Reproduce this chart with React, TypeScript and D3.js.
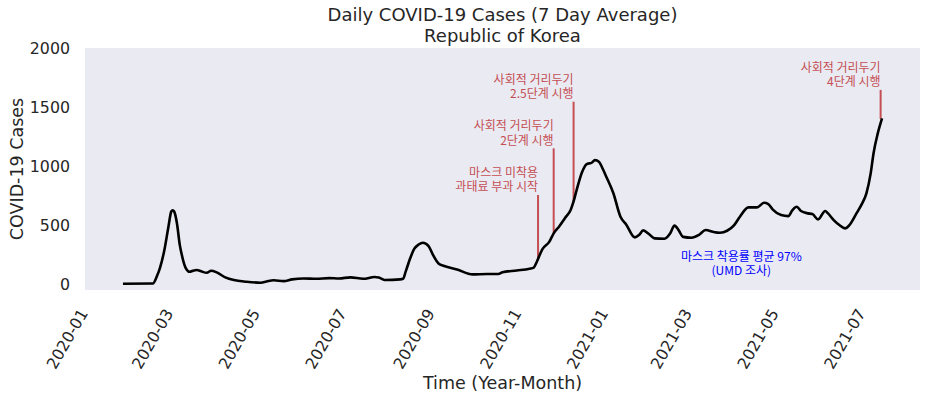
import React from "react";
import * as d3 from "d3";

const width = 927;
const height = 401;
const plot = { left: 85, right: 920, top: 48, bottom: 290 };

// 7-day average of daily cases
const dates = [
  "2020-01-26", "2020-02-16", "2020-02-19", "2020-02-21", "2020-02-24", "2020-02-27",
  "2020-02-29", "2020-03-01", "2020-03-02", "2020-03-04", "2020-03-06", "2020-03-07",
  "2020-03-10", "2020-03-13", "2020-03-15", "2020-03-18", "2020-03-21", "2020-03-25",
  "2020-03-28", "2020-04-01", "2020-04-07", "2020-04-13", "2020-04-22", "2020-05-02",
  "2020-05-06", "2020-05-11", "2020-05-18", "2020-05-24", "2020-06-01", "2020-06-10",
  "2020-06-19", "2020-06-26", "2020-07-04", "2020-07-13", "2020-07-21", "2020-07-24",
  "2020-07-28", "2020-08-08", "2020-08-10", "2020-08-12", "2020-08-15", "2020-08-18",
  "2020-08-21", "2020-08-24", "2020-08-28", "2020-08-31", "2020-09-04", "2020-09-08",
  "2020-09-17", "2020-09-28", "2020-10-08", "2020-10-16", "2020-10-19", "2020-10-29",
  "2020-11-07", "2020-11-10", "2020-11-12", "2020-11-16", "2020-11-21", "2020-11-24",
  "2020-11-28", "2020-12-02", "2020-12-06", "2020-12-08", "2020-12-10", "2020-12-14",
  "2020-12-17", "2020-12-21", "2020-12-23", "2020-12-26", "2020-12-28", "2020-12-31",
  "2021-01-05", "2021-01-10", "2021-01-14", "2021-01-20", "2021-01-23", "2021-01-26",
  "2021-01-30", "2021-02-03", "2021-02-10", "2021-02-14", "2021-02-17", "2021-02-20",
  "2021-02-23", "2021-03-01", "2021-03-06", "2021-03-11", "2021-03-16", "2021-03-21",
  "2021-03-26", "2021-03-31", "2021-04-04", "2021-04-10", "2021-04-16", "2021-04-21",
  "2021-04-24", "2021-04-27", "2021-05-03", "2021-05-08", "2021-05-11", "2021-05-14",
  "2021-05-17", "2021-05-22", "2021-05-25", "2021-05-29", "2021-06-03", "2021-06-05",
  "2021-06-09", "2021-06-13", "2021-06-17", "2021-06-20", "2021-06-25", "2021-06-29",
  "2021-07-02", "2021-07-05", "2021-07-07", "2021-07-10", "2021-07-13",
];
const cases = [
  3, 5, 70, 136, 280, 486,
  615, 625, 615, 514, 330, 270,
  140, 104, 112, 119, 108, 96,
  113, 99, 57, 34, 20, 12,
  22, 32, 25, 40, 48, 45,
  51, 48, 57, 45, 60, 55,
  35, 40, 45, 110, 217, 300,
  335, 350, 322, 250, 175, 153,
  124, 82, 85, 85, 100, 115,
  130, 140, 185, 295, 360, 430,
  490, 560, 630, 700, 790, 950,
  1015, 1030, 1050, 1035, 990, 910,
  770, 570, 505, 396, 415, 455,
  424, 387, 384, 430, 495, 455,
  400, 393, 415, 458, 443, 435,
  452, 500, 571, 650, 650, 689,
  678, 633, 585, 576, 627, 655,
  619, 599, 593, 548, 619, 599,
  542, 500, 472, 500, 599, 684,
  769, 938, 1107, 1277, 1404,
];

// red policy markers
const eventDates = ["2020-11-13", "2020-11-24", "2020-12-08", "2021-07-12"];
const eventBase = [217, 430, 700, 1400];
const eventTop = [755, 1150, 1545, 1645];
const eventLabels = [
  ["마스크 미착용", "과태료 부과 시작"],
  ["사회적 거리두기", "2단계 시행"],
  ["사회적 거리두기", "2.5단계 시행"],
  ["사회적 거리두기", "4단계 시행"],
];

const maskNote = ["마스크 착용률 평균 97%", "(UMD 조사)"];
const maskNoteDate = "2021-04-05";
const maskNoteValue = [195, 80];

const yTicks = [0, 500, 1000, 1500, 2000];
const xTicks = [
  "2020-01", "2020-03", "2020-05", "2020-07", "2020-09", "2020-11",
  "2021-01", "2021-03", "2021-05", "2021-07",
];

const parse = d3.utcParse("%Y-%m-%d");
const parseMonth = d3.utcParse("%Y-%m");
const sans = "'DejaVu Sans', sans-serif";
const kr = "'Noto Sans CJK KR', sans-serif";
const ink = "#262626";
const red = "#c44e52";

export default function App() {
  const series = dates.map((d, i) => ({ date: parse(d) as Date, value: cases[i] }));
  const [t0, t1] = d3.extent(series, (d) => d.date) as [Date, Date];
  const pad = (t1.getTime() - t0.getTime()) * 0.05;

  const x = d3
    .scaleUtc()
    .domain([new Date(t0.getTime() - pad), new Date(t1.getTime() + pad)])
    .range([plot.left, plot.right]);
  const y = d3.scaleLinear().domain([-50, 2000]).range([plot.bottom, plot.top]);

  const line = d3
    .line<{ date: Date; value: number }>()
    .x((d) => x(d.date))
    .y((d) => y(d.value))
    .curve(d3.curveMonotoneX);

  const midX = (plot.left + plot.right) / 2;

  return (
    <svg
      width={width}
      height={height}
      style={{ position: "absolute", left: 0, top: 0, background: "#fff" }}
    >
      <text x={midX} y={21} textAnchor="middle" fontFamily={sans} fontSize={18} fill={ink}>
        Daily COVID-19 Cases (7 Day Average)
      </text>
      <text x={midX} y={42} textAnchor="middle" fontFamily={sans} fontSize={18} fill={ink}>
        Republic of Korea
      </text>

      <rect
        x={plot.left}
        y={plot.top}
        width={plot.right - plot.left}
        height={plot.bottom - plot.top}
        fill="#eaeaf2"
      />

      {yTicks.map((t) => (
        <text
          key={t}
          x={plot.left - 15}
          y={y(t)}
          dy="0.36em"
          textAnchor="end"
          fontFamily={sans}
          fontSize={15.8}
          fill={ink}
        >
          {t}
        </text>
      ))}

      {xTicks.map((t) => {
        const px = x(parseMonth(t) as Date);
        return (
          <text
            key={t}
            transform={`translate(${px + 1},${313}) rotate(-60)`}
            textAnchor="end"
            fontFamily={sans}
            fontSize={15.8}
            fill={ink}
          >
            {t}
          </text>
        );
      })}

      <text
        transform={`translate(22.5,${(plot.top + plot.bottom) / 2}) rotate(-90)`}
        textAnchor="middle"
        fontFamily={sans}
        fontSize={17.5}
        fill={ink}
      >
        COVID-19 Cases
      </text>
      <text x={midX} y={388.5} textAnchor="middle" fontFamily={sans} fontSize={17.5} fill={ink}>
        Time (Year-Month)
      </text>

      {eventDates.map((d, i) => {
        const px = x(parse(d) as Date);
        const top = y(eventTop[i]);
        return (
          <g key={d}>
            <line x1={px} x2={px} y1={y(eventBase[i])} y2={top} stroke={red} strokeWidth={2} />
            {eventLabels[i].map((s, j) => (
              <text
                key={j}
                x={px}
                y={top - 3.5 - (1 - j) * 14.5}
                textAnchor="end"
                fontFamily={kr}
                fontSize={12}
                fill={red}
              >
                {s}
              </text>
            ))}
          </g>
        );
      })}

      <path d={line(series) ?? ""} fill="none" stroke="#000" strokeWidth={2.6} strokeLinejoin="round" />

      {maskNote.map((s, i) => (
        <text
          key={i}
          x={x(parse(maskNoteDate) as Date)}
          y={y(maskNoteValue[i])}
          textAnchor="middle"
          fontFamily={kr}
          fontSize={12}
          fill="#0000ff"
        >
          {s}
        </text>
      ))}
    </svg>
  );
}
